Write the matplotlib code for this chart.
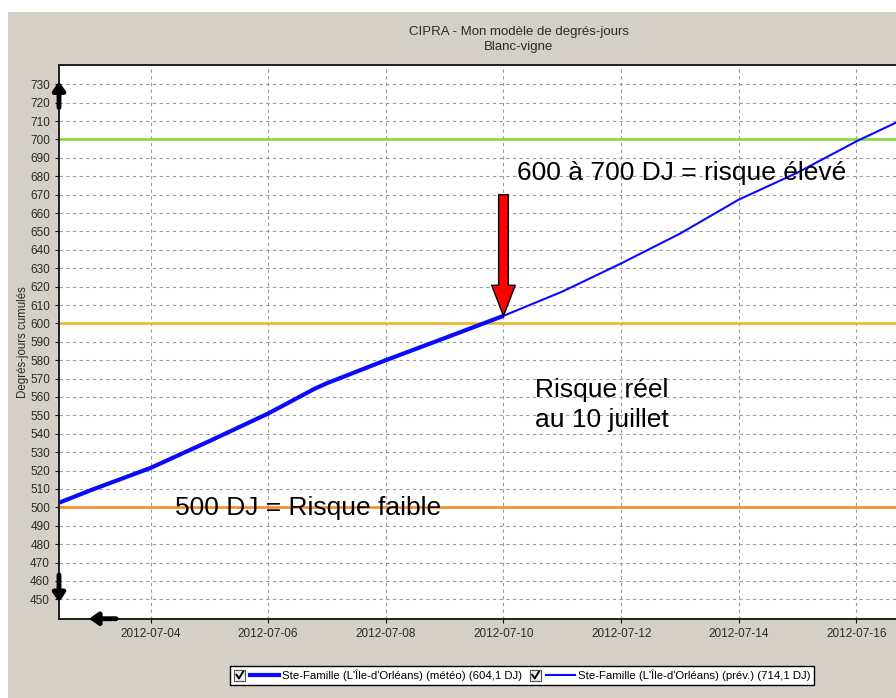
import matplotlib
matplotlib.use('Agg')
import matplotlib.pyplot as plt
import matplotlib.dates as mdates
import pandas as pd
import numpy as np
from matplotlib.patches import Rectangle
from matplotlib.lines import Line2D
from matplotlib.legend_handler import HandlerBase

plt.rcParams['font.family'] = ['Liberation Sans', 'DejaVu Sans']

# cumulated degree-days, observed (meteo) and forecast
meteo_dates = pd.to_datetime(['2012-07-02 10:40', '2012-07-03 00:00', '2012-07-04 00:00', '2012-07-05 00:00',
                              '2012-07-06 00:00', '2012-07-06 19:00', '2012-07-07 00:00', '2012-07-08 00:00',
                              '2012-07-09 00:00', '2012-07-10 00:00'])
meteo_vals = [502.5, 509.5, 521.4, 536.0, 551.0, 564.5, 567.5, 580.0, 592.0, 604.1]

prev_dates = pd.to_datetime(['2012-07-10', '2012-07-11', '2012-07-12', '2012-07-13',
                             '2012-07-14', '2012-07-15', '2012-07-16', '2012-07-17'])
prev_vals = [604.1, 617.3, 632.6, 648.8, 667.3, 682.0, 699.0, 714.1]

thresholds = [700, 600, 500]
threshold_colors = ['#80dc22', '#e8b71e', '#f7871f']

yticks = list(range(450, 740, 10))
xticks = pd.date_range('2012-07-04', '2012-07-16', freq='2D')
x_end = pd.Timestamp('2012-07-18 02:00')

title = 'CIPRA - Mon modèle de degrés-jours\nBlanc-vigne'
ylabel = 'Degrés-jours cumulés'
label_meteo = "Ste-Famille (L'Île-d'Orléans) (météo) (604,1 DJ)"
label_prev = "Ste-Famille (L'Île-d'Orléans) (prév.) (714,1 DJ)"

bg = '#d4d0c8'
blue = '#0a0aff'


class CheckboxHandler(HandlerBase):
    def create_artists(self, legend, orig_handle, xdescent, ydescent, width, height, fontsize, trans):
        cy = (height - ydescent) / 2
        x0 = -xdescent
        s = 8
        box = Rectangle((x0, cy - s / 2), s, s, facecolor='#f4f4f4', edgecolor='#505050', lw=0.8, transform=trans)
        check = Line2D([x0 + 1.8, x0 + 3.6, x0 + 6.6], [cy + 0.4, cy - 2.3, cy + 2.6],
                       color='black', lw=1.4, transform=trans)
        line = Line2D([x0 + s + 3.5, x0 + width], [cy, cy], color=orig_handle.get_color(),
                      lw=orig_handle.get_linewidth(), transform=trans)
        return [box, check, line]


fig = plt.figure(figsize=(8.96, 6.98), dpi=100, facecolor='white')
fig.patches.append(Rectangle((8 / 896, 0), 1, 1 - 12 / 698, transform=fig.transFigure,
                             facecolor=bg, edgecolor='none', zorder=-10))

ax = fig.add_axes([59 / 896, 0.1136, 920 / 896, 0.7928])
ax.set_facecolor('white')

for v, c in zip(thresholds, threshold_colors):
    ax.axhline(v, color=c, lw=1.8, zorder=2)

ax.plot(meteo_dates, meteo_vals, color=blue, lw=3, zorder=3, solid_capstyle='butt')
ax.plot(prev_dates, prev_vals, color=blue, lw=1.5, zorder=3)

ax.set_xlim(meteo_dates[0], x_end)
ax.set_ylim(439.45, 740.3)
ax.set_yticks(yticks)
ax.set_xticks(xticks)
ax.xaxis.set_major_formatter(mdates.DateFormatter('%Y-%m-%d'))

ax.grid(True, color='#9a9a9a', linestyle=(0, (3, 3)), lw=0.8, zorder=1)
ax.set_axisbelow(True)

for side in ['left', 'bottom', 'top']:
    ax.spines[side].set_linewidth(1.4)
    ax.spines[side].set_color('#202020')
ax.spines['right'].set_visible(False)

ax.tick_params(axis='both', labelsize=8.5, labelcolor='#2a2a2a', direction='out', length=3, width=0.8)
ax.tick_params(axis='x', pad=4)
ax.set_ylabel(ylabel, fontsize=8.3, color='#2a2a2a')
ax.yaxis.set_label_coords(-30 / 920, 0.5)
ax.set_title(title, fontsize=9.5, color='#2a2a2a', pad=11, linespacing=1.3)

# annotations
ax.text(pd.Timestamp('2012-07-10 05:20'), 681.5, '600 à 700 DJ = risque élevé', fontsize=19, va='center', zorder=4)
ax.text(pd.Timestamp('2012-07-04 10:00'), 499.5, '500 DJ = Risque faible', fontsize=19, va='center', zorder=4)
ax.text(pd.Timestamp('2012-07-10 12:40'), 555.5, 'Risque réel\nau 10 juillet', fontsize=19, va='center',
        linespacing=1.3, zorder=4)
ax.annotate('', xy=(meteo_dates[-1], meteo_vals[-1]), xytext=(meteo_dates[-1], 670),
            arrowprops=dict(width=7, headwidth=17, headlength=22, shrink=0,
                            facecolor='#ff0000', edgecolor='black', lw=1), zorder=5)

# little scroll arrows on the axes
arrow_kw = dict(arrowstyle='-|>,head_length=0.5,head_width=0.35', lw=3.5, color='black',
                shrinkA=0, shrinkB=0, mutation_scale=10)
ax.annotate('', xy=(0, 0.971), xytext=(0, 0.924), xycoords='axes fraction', arrowprops=arrow_kw, annotation_clip=False)
ax.annotate('', xy=(0, 0.030), xytext=(0, 0.079), xycoords='axes fraction', arrowprops=arrow_kw, annotation_clip=False)
ax.annotate('', xy=(0.0326, 0), xytext=(0.062, 0), xycoords='axes fraction', arrowprops=arrow_kw, annotation_clip=False)

h1 = Line2D([], [], color=blue, lw=3)
h2 = Line2D([], [], color=blue, lw=1.5)
leg = fig.legend([h1, h2], [label_meteo, label_prev], loc='center', bbox_to_anchor=(522 / 896, 0.0322),
                 ncol=2, fontsize=8.2, frameon=True, fancybox=False, handlelength=4.0, handletextpad=0.2,
                 columnspacing=0.7, borderpad=0.35, handler_map={Line2D: CheckboxHandler()})
leg.get_frame().set_edgecolor('black')
leg.get_frame().set_linewidth(1)
leg.get_frame().set_facecolor('white')
leg.get_frame().set_alpha(1)

fig.savefig('out.png', dpi=100, facecolor=fig.get_facecolor())
